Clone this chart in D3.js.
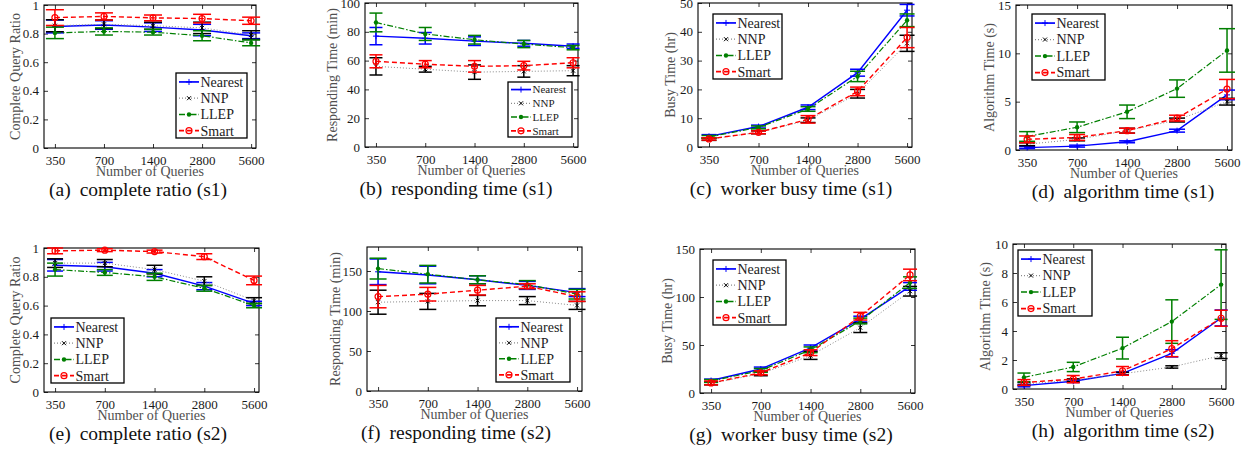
<!DOCTYPE html>
<html>
<head>
<meta charset="utf-8">
<script src="https://cdn.jsdelivr.net/npm/d3@7"></script>
<style>
  body { margin: 0; background: #fff; }
  svg { display: block; }
  svg text { font-family: "Liberation Serif", "Times New Roman", "DejaVu Serif", serif; }
  .tick text { font-size: 13px; fill: #1a1a1a; }
  .axis-title { font-size: 14px; fill: #505050; }
  .caption { font-size: 19.5px; fill: #111; }
</style>
</head>
<body>
<div id="fig"></div>
<script>
const queries = [350, 700, 1400, 2800, 5600];
const methods = ['Nearest', 'NNP', 'LLEP', 'Smart'];

// rows: Nearest, NNP, LLEP, Smart
const ratioS1 = [[0.85, 0.86, 0.845, 0.825, 0.785], [0.855, 0.865, 0.855, 0.84, 0.79], [0.805, 0.815, 0.81, 0.785, 0.735], [0.912, 0.92, 0.91, 0.905, 0.89]];
const ratioS1Err = [[0.045, 0.03, 0.03, 0.04, 0.02], [0.042, 0.03, 0.025, 0.04, 0.03], [0.04, 0.025, 0.02, 0.035, 0.02], [0.055, 0.025, 0.02, 0.03, 0.025]];
const responseS1 = [[77, 75.5, 73.5, 72, 70], [56, 54, 52, 52.5, 53], [86.5, 78.5, 74.5, 71.5, 69], [59.5, 57.5, 56, 56.5, 58.5]];
const responseS1Err = [[6, 4, 3, 2, 1.5], [6, 2, 5, 4, 3.5], [6.5, 4.5, 3, 2.5, 1.5], [4.5, 2.5, 4, 3, 3.5]];
const busyS1 = [[3.7, 7.1, 13.8, 25.8, 47.5], [2.7, 5.1, 9.3, 18.5, 36], [3.5, 6.8, 13.2, 24.5, 44], [2.8, 5.1, 9.6, 19.3, 38]];
const busyS1Err = [[0.6, 0.5, 0.8, 1.2, 2], [0.4, 0.5, 0.8, 1.5, 2.8], [0.5, 0.5, 0.8, 1.8, 2.2], [0.4, 0.5, 1.3, 1.5, 3.5]];
const algoS1 = [[0.25, 0.4, 0.85, 2.0, 5.7], [0.6, 1.1, 2.0, 3.1, 5.0], [1.4, 2.35, 3.95, 6.35, 10.3], [1.1, 1.3, 2.0, 3.3, 6.3]];
const algoS1Err = [[0.1, 0.1, 0.1, 0.15, 0.5], [0.15, 0.15, 0.25, 0.2, 0.35], [0.5, 0.55, 0.7, 0.9, 2.25], [0.35, 0.3, 0.25, 0.3, 1.0]];

const ratioS2 = [[0.88, 0.87, 0.825, 0.735, 0.615], [0.895, 0.895, 0.85, 0.77, 0.635], [0.85, 0.83, 0.80, 0.72, 0.60], [0.98, 0.985, 0.975, 0.94, 0.775]];
const ratioS2Err = [[0.04, 0.03, 0.025, 0.025, 0.015], [0.03, 0.025, 0.03, 0.03, 0.02], [0.045, 0.02, 0.025, 0.02, 0.015], [0.02, 0.01, 0.01, 0.02, 0.03]];
const responseS2 = [[149, 145, 139, 132, 123], [111, 112, 113, 113, 107], [153, 146, 139, 133, 121], [118, 121, 126, 131, 118]];
const responseS2Err = [[16, 11, 5, 5, 5], [15, 10, 6.5, 5, 5], [13, 11, 5, 5, 6], [14, 8.5, 6, 3, 6]];
const busyS2 = [[13, 25, 47, 77, 111], [10, 20, 39, 68, 106], [12.5, 23.5, 45, 75, 115], [10.5, 21, 42, 80, 123]];
const busyS2Err = [[1.5, 2, 3, 3, 4], [1.5, 2, 4, 5, 5], [1.5, 2, 3, 3, 6], [2, 2, 3, 4, 6]];
const algoS2 = [[0.23, 0.53, 1.08, 2.46, 4.9], [0.35, 0.6, 1.05, 1.52, 2.3], [0.8, 1.52, 2.82, 4.65, 7.2], [0.45, 0.68, 1.25, 2.78, 4.88]];
const algoS2Err = [[0.08, 0.08, 0.1, 0.25, 0.55], [0.1, 0.1, 0.1, 0.08, 0.2], [0.3, 0.32, 0.75, 1.5, 2.4], [0.2, 0.25, 0.3, 0.55, 0.55]];

// tick labels
const ratioTicks = [0, 0.2, 0.4, 0.6, 0.8, 1];
const responseS1Ticks = [0, 20, 40, 60, 80, 100];
const responseS2Ticks = [0, 50, 100, 150];
const busyS1Ticks = [0, 10, 20, 30, 40, 50];
const busyS2Ticks = [0, 50, 100, 150];
const algoS1Ticks = [0, 5, 10, 15];
const algoS2Ticks = [0, 2, 4, 6, 8, 10];

// look of each method
const seriesStyle = [
  { color: '#0000ff', lineColor: '#0000ff', dash: null, width: 1.4, marker: 'plus' },
  { color: '#000000', lineColor: '#8a8a8a', dash: '1,2', width: 1, marker: 'cross' },
  { color: '#007f00', lineColor: '#007f00', dash: '6,2,1.5,2', width: 1.2, marker: 'dot' },
  { color: '#ff0000', lineColor: '#ff0000', dash: '5,3', width: 1.4, marker: 'circle' }
];

class ErrorLinePanel {
  constructor(_svg, _config, _means, _errs) {
    this.svg = _svg;
    this.config = _config;
    this.means = _means;
    this.errs = _errs;
    this.initVis();
  }

  initVis() {
    let vis = this;
    const c = vis.config;
    const [left, right, top, bottom] = c.box;

    vis.x = d3.scaleLog().base(2).domain([300, 6000]).range([left, right]);
    vis.y = d3.scaleLinear().domain([0, c.yMax]).range([bottom, top]);

    vis.g = vis.svg.append('g');

    // axes, ticks pointing inward like matlab
    vis.g.append('g')
      .attr('transform', `translate(0,${bottom})`)
      .call(d3.axisBottom(vis.x).tickValues(queries).tickFormat(d3.format('d')).tickSize(-4).tickPadding(8));
    vis.g.append('g')
      .attr('transform', `translate(0,${top})`)
      .call(d3.axisTop(vis.x).tickValues(queries).tickFormat('').tickSize(-4));
    vis.g.append('g')
      .attr('transform', `translate(${left},0)`)
      .call(d3.axisLeft(vis.y).tickValues(c.yTicks).tickFormat(d3.format('~g')).tickSize(-4).tickPadding(5));
    vis.g.append('g')
      .attr('transform', `translate(${right},0)`)
      .call(d3.axisRight(vis.y).tickValues(c.yTicks).tickFormat('').tickSize(-4));
    vis.g.selectAll('.domain').remove();
    vis.g.selectAll('.tick line').attr('stroke', '#000').attr('stroke-width', 0.8);
    vis.g.selectAll('.tick text').attr('font-family', null).attr('font-size', null);

    vis.g.append('rect')
      .attr('x', left).attr('y', top)
      .attr('width', right - left).attr('height', bottom - top)
      .attr('fill', 'none').attr('stroke', '#000').attr('stroke-width', 1.1);

    vis.g.append('text')
      .attr('class', 'axis-title')
      .attr('x', (left + right) / 2)
      .attr('y', bottom + 27.5)
      .attr('text-anchor', 'middle')
      .text('Number of Queries');

    vis.g.append('text')
      .attr('class', 'axis-title')
      .attr('transform', `translate(${left + c.titleDx},${(top + bottom) / 2}) rotate(-90)`)
      .attr('text-anchor', 'middle')
      .attr('dy', '0.35em')
      .text(c.yTitle);

    // caption: "(a)" then a wider gap, like a subfigure label
    const cap = vis.g.append('text')
      .attr('class', 'caption')
      .attr('x', c.captionX)
      .attr('y', bottom + 47.5)
      .attr('text-anchor', 'middle');
    cap.append('tspan').text(c.caption[0]);
    cap.append('tspan').attr('dx', 9).text(c.caption[1]);

    vis.renderVis();
  }

  renderVis() {
    let vis = this;
    const c = vis.config;
    const half = c.cap / 2;

    vis.means.forEach((row, i) => {
      const st = seriesStyle[i];
      const pts = row.map((v, j) => ({ q: queries[j], v: v, e: vis.errs[i][j] }));
      const sg = vis.g.append('g');

      const line = d3.line().x(d => vis.x(d.q)).y(d => vis.y(d.v));
      sg.append('path')
        .datum(pts)
        .attr('d', line)
        .attr('fill', 'none')
        .attr('stroke', st.lineColor)
        .attr('stroke-width', st.width)
        .attr('stroke-dasharray', st.dash);

      // error bars
      const eb = sg.selectAll('.eb').data(pts).join('g')
        .attr('stroke', st.color).attr('stroke-width', 1.5);
      eb.append('line')
        .attr('x1', d => vis.x(d.q)).attr('x2', d => vis.x(d.q))
        .attr('y1', d => vis.y(d.v - d.e)).attr('y2', d => vis.y(d.v + d.e));
      eb.append('line')
        .attr('x1', d => vis.x(d.q) - half).attr('x2', d => vis.x(d.q) + half)
        .attr('y1', d => vis.y(d.v - d.e)).attr('y2', d => vis.y(d.v - d.e));
      eb.append('line')
        .attr('x1', d => vis.x(d.q) - half).attr('x2', d => vis.x(d.q) + half)
        .attr('y1', d => vis.y(d.v + d.e)).attr('y2', d => vis.y(d.v + d.e));

      pts.forEach(d => drawMarker(sg, st, vis.x(d.q), vis.y(d.v)));
    });

    // legend
    const L = c.legend;
    const lg = vis.g.append('g');
    lg.append('rect')
      .attr('x', L.x).attr('y', L.y).attr('width', L.w).attr('height', L.h)
      .attr('fill', '#fff').attr('stroke', '#000').attr('stroke-width', 1.3);
    methods.forEach((m, i) => {
      const st = seriesStyle[i];
      const yy = L.y + L.h * (i + 0.55) / 4;
      lg.append('line')
        .attr('x1', L.x + 3).attr('x2', L.x + 23)
        .attr('y1', yy).attr('y2', yy)
        .attr('stroke', st.lineColor).attr('stroke-width', st.width + 0.3)
        .attr('stroke-dasharray', st.dash);
      drawMarker(lg, st, L.x + 13, yy);
      lg.append('text')
        .attr('x', L.x + 24.5).attr('y', yy)
        .attr('dy', '0.35em')
        .attr('font-size', L.fs + 'px')
        .attr('fill', '#222')
        .text(m);
    });
  }
}

function drawMarker(sel, st, cx, cy) {
  if (st.marker === 'plus') {
    sel.append('path').attr('d', `M${cx - 3},${cy}H${cx + 3}M${cx},${cy - 3}V${cy + 3}`)
      .attr('stroke', st.color).attr('stroke-width', 1);
  } else if (st.marker === 'cross') {
    sel.append('path').attr('d', `M${cx - 2},${cy - 2}L${cx + 2},${cy + 2}M${cx - 2},${cy + 2}L${cx + 2},${cy - 2}`)
      .attr('stroke', st.color).attr('stroke-width', 1);
  } else if (st.marker === 'dot') {
    sel.append('circle').attr('cx', cx).attr('cy', cy).attr('r', 2.2).attr('fill', st.color);
  } else {
    sel.append('circle').attr('cx', cx).attr('cy', cy).attr('r', 3)
      .attr('fill', 'none').attr('stroke', st.color).attr('stroke-width', 1.2);
  }
}

const svg = d3.select('#fig').append('svg')
  .attr('width', 1247)
  .attr('height', 452);

const panelConfigs = [
  { box: [44, 256, 5, 148], yMax: 1, yTicks: ratioTicks, yTitle: 'Complete Query Ratio', titleDx: -29,
    caption: ['(a)', 'complete ratio (s1)'], captionX: 138, cap: 18, legend: { x: 176, y: 73, w: 71, h: 65, fs: 14 } },
  { box: [365, 578, 3, 147], yMax: 100, yTicks: responseS1Ticks, yTitle: 'Responding Time (min)', titleDx: -33,
    caption: ['(b)', 'responding time (s1)'], captionX: 456, cap: 13, legend: { x: 508, y: 82, w: 64, h: 55, fs: 11 } },
  { box: [698, 912, 3, 147], yMax: 50, yTicks: busyS1Ticks, yTitle: 'Busy Time (hr)', titleDx: -28,
    caption: ['(c)', 'worker busy time (s1)'], captionX: 791, cap: 15, legend: { x: 713, y: 14, w: 69, h: 65, fs: 14 } },
  { box: [1016, 1232, 5, 150], yMax: 15, yTicks: algoS1Ticks, yTitle: 'Algorithm Time (s)', titleDx: -27,
    caption: ['(d)', 'algorithm time (s1)'], captionX: 1123, cap: 16, legend: { x: 1032, y: 14, w: 73, h: 66, fs: 14 } },
  { box: [44, 259, 248, 392], yMax: 1, yTicks: ratioTicks, yTitle: 'Complete Query Ratio', titleDx: -29,
    caption: ['(e)', 'complete ratio (s2)'], captionX: 138, cap: 16, legend: { x: 51, y: 318, w: 73, h: 65, fs: 14 } },
  { box: [367, 582, 247, 391], yMax: 180, yTicks: responseS2Ticks, yTitle: 'Responding Time (min)', titleDx: -32,
    caption: ['(f)', 'responding time (s2)'], captionX: 456, cap: 17, legend: { x: 496, y: 318, w: 74, h: 64, fs: 14 } },
  { box: [700, 915, 249, 393], yMax: 150, yTicks: busyS2Ticks, yTitle: 'Busy Time (hr)', titleDx: -33,
    caption: ['(g)', 'worker busy time (s2)'], captionX: 791, cap: 14, legend: { x: 713, y: 260, w: 73, h: 65, fs: 14 } },
  { box: [1013, 1226, 244, 389], yMax: 10, yTicks: algoS2Ticks, yTitle: 'Algorithm Time (s)', titleDx: -28,
    caption: ['(h)', 'algorithm time (s2)'], captionX: 1123, cap: 13, legend: { x: 1018, y: 250, w: 74, h: 66, fs: 14 } }
];

const panelData = [
  [ratioS1, ratioS1Err], [responseS1, responseS1Err], [busyS1, busyS1Err], [algoS1, algoS1Err],
  [ratioS2, ratioS2Err], [responseS2, responseS2Err], [busyS2, busyS2Err], [algoS2, algoS2Err]
];

panelConfigs.forEach((cfg, i) => {
  new ErrorLinePanel(svg, cfg, panelData[i][0], panelData[i][1]);
});
</script>
</body>
</html>
